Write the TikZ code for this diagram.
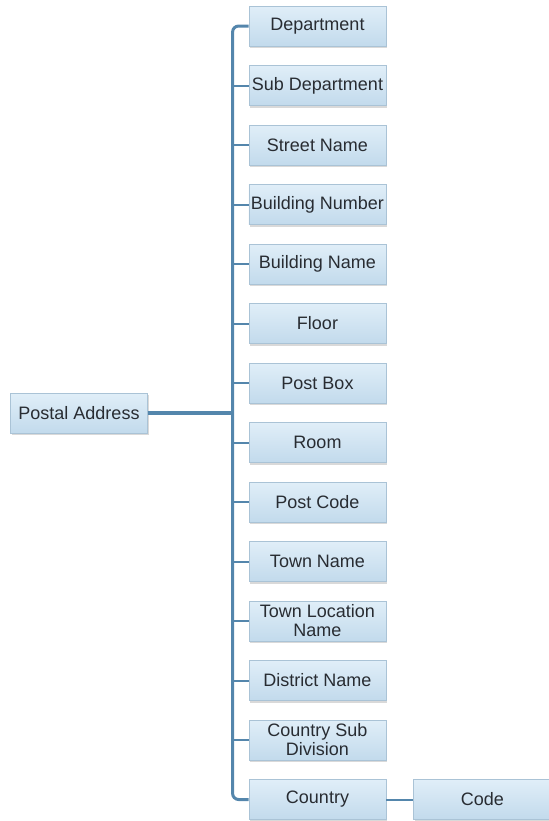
\documentclass[tikz,border=0pt]{standalone}
\usepackage{fontspec}
\setmainfont{Liberation Sans}
\usetikzlibrary{positioning,shadows}
\definecolor{boxtop}{RGB}{224,238,248}
\definecolor{boxbot}{RGB}{194,218,236}
\definecolor{boxline}{RGB}{170,195,214}
\definecolor{linkblue}{RGB}{84,134,172}
\definecolor{labelgray}{RGB}{40,44,50}

\begin{document}
\begin{tikzpicture}[
  x=0.5pt, y=-0.5pt,
  node distance=9.35pt,
  field/.style={rectangle, draw=boxline, top color=boxtop, bottom color=boxbot,
                minimum width=68.5pt, minimum height=20pt, inner xsep=1pt, inner ysep=0pt,
                align=center, font=\fontsize{9}{9.5}\selectfont, text=labelgray,
                drop shadow={shadow xshift=0.6pt, shadow yshift=-1.2pt, opacity=0.3}},
  link/.style={draw=linkblue, line width=1.5pt},
  stub/.style={draw=linkblue, line width=1pt}
]
\useasboundingbox (0,0) rectangle (549,821);

\node[field] (dept) at (317.5,26) {Department};
\node[field, below=of dept] (subdept) {Sub Department};
\node[field, below=of subdept] (street) {Street Name};
\node[field, below=of street] (bnumber) {Building Number};
\node[field, below=of bnumber] (bname) {Building Name};
\node[field, below=of bname] (floor) {Floor};
\node[field, below=of floor] (postbox) {Post Box};
\node[field, below=of postbox] (room) {Room};
\node[field, below=of room] (postcode) {Post Code};
\node[field, below=of postcode] (town) {Town Name};
\node[field, below=of town] (townloc) {Town Location\\Name};
\node[field, below=of townloc] (district) {District Name};
\node[field, below=of district] (subdiv) {Country Sub\\Division};
\node[field, below=of subdiv] (country) {Country};
\node[field, right=13.5pt of country] (code) {Code};

\node[field] (postal) at (79,413) {Postal Address};

% trunk and branches
\draw[link, rounded corners=3pt] (dept.west) -- ++(-16,0) |- (country.west);
\foreach \n in {subdept, street, bnumber, bname, floor, postbox, room,
                postcode, town, townloc, district, subdiv} {
  \draw[stub] (\n.west) -- ++(-16,0);
}
\draw[link, line width=2pt] (postal.east) -- ++(86,0);
\draw[stub] (country) -- (code);

\end{tikzpicture}
\end{document}
